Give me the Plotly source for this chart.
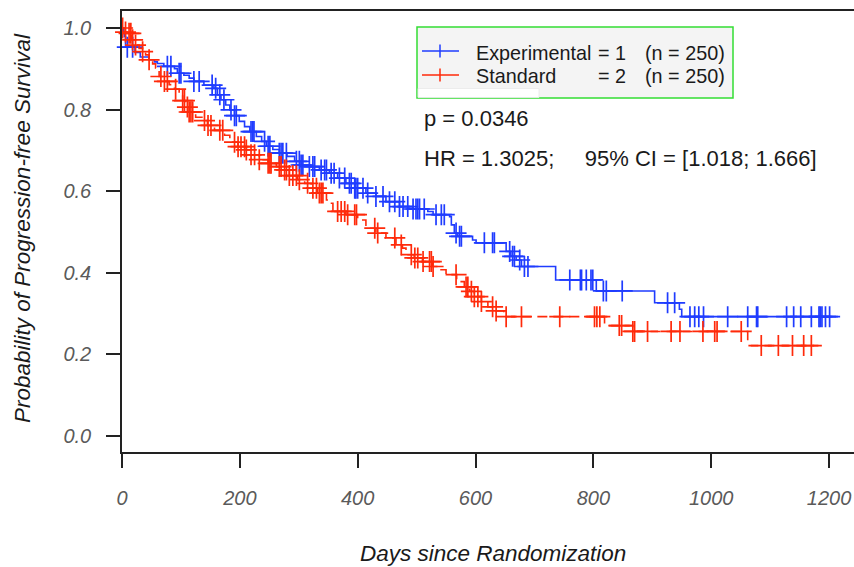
import plotly.graph_objects as go

# ---------------- data ----------------
x_tick_vals = [0, 200, 400, 600, 800, 1000, 1200]
y_tick_vals = [0.0, 0.2, 0.4, 0.6, 0.8, 1.0]
y_tick_text = ["0.0", "0.2", "0.4", "0.6", "0.8", "1.0"]

# Experimental (blue) Kaplan-Meier steps: time of event -> survival after it
blue_time = [0, 2, 4, 6, 22, 31, 46, 55, 60, 71, 89, 94, 105, 114, 122, 139, 156, 162,
             168, 176, 183, 191, 199, 208, 217, 228, 237, 245, 256, 267, 280, 293, 304,
             318, 335, 352, 366, 380, 395, 414, 431, 448, 471, 494, 519, 528, 556, 559,
             564, 570, 595, 601, 652, 660, 669, 678, 736, 805, 904, 946, 950]
blue_surv = [1.0, 0.99, 0.979, 0.953, 0.94, 0.929, 0.922, 0.917, 0.913, 0.906, 0.90,
             0.889, 0.884, 0.877, 0.869, 0.860, 0.852, 0.836, 0.824, 0.811, 0.799, 0.785,
             0.771, 0.758, 0.746, 0.734, 0.722, 0.710, 0.702, 0.693, 0.685, 0.673, 0.664,
             0.660, 0.652, 0.644, 0.632, 0.619, 0.607, 0.595, 0.587, 0.574, 0.562, 0.556,
             0.550, 0.542, 0.537, 0.517, 0.497, 0.489, 0.480, 0.473, 0.452, 0.440, 0.431,
             0.415, 0.382, 0.355, 0.326, 0.310, 0.292]
blue_end = 1215
blue_censor = [9, 18, 77, 83, 97, 100, 122, 131, 153, 159, 166, 173, 185, 191, 194, 219,
               222, 224, 242, 248, 251, 267, 270, 273, 279, 296, 301, 304, 307, 318, 324,
               327, 338, 344, 347, 355, 360, 369, 378, 386, 389, 395, 397, 400, 409, 417,
               431, 443, 454, 463, 471, 477, 485, 494, 499, 502, 505, 513, 533, 542, 547,
               567, 573, 576, 615, 629, 632, 658, 663, 666, 675, 683, 689, 760, 778, 780,
               788, 796, 799, 817, 822, 849, 926, 938, 964, 972, 979, 987, 1028, 1062,
               1077, 1079, 1128, 1140, 1152, 1170, 1183, 1185, 1188, 1194, 1201]

# Standard (red) Kaplan-Meier steps
red_time = [0, 5, 9, 16, 23, 29, 35, 40, 46, 52, 57, 63, 72, 80, 89, 97, 103, 108, 114,
            125, 137, 145, 157, 174, 183, 197, 211, 219, 233, 248, 262, 273, 284, 298,
            310, 321, 332, 347, 352, 358, 380, 400, 414, 431, 448, 465, 476, 482, 496,
            510, 527, 539, 550, 568, 581, 590, 598, 610, 621, 633, 648, 819, 867, 1062]
red_surv = [1.0, 0.99, 0.987, 0.971, 0.958, 0.950, 0.942, 0.934, 0.922, 0.912, 0.902,
            0.881, 0.869, 0.861, 0.850, 0.838, 0.822, 0.806, 0.794, 0.781, 0.773, 0.761,
            0.749, 0.737, 0.720, 0.709, 0.701, 0.689, 0.677, 0.668, 0.660, 0.652, 0.638,
            0.628, 0.619, 0.607, 0.595, 0.578, 0.570, 0.550, 0.542, 0.529, 0.509, 0.497,
            0.485, 0.468, 0.460, 0.444, 0.436, 0.427, 0.415, 0.407, 0.395, 0.378, 0.365,
            0.354, 0.341, 0.329, 0.316, 0.306, 0.292, 0.270, 0.2557, 0.221]
red_end = 1182
red_censor = [1, 6, 12, 15, 18, 23, 35, 46, 66, 72, 77, 91, 103, 106, 111, 114, 117, 120,
              140, 146, 151, 166, 171, 191, 197, 202, 208, 211, 219, 225, 233, 248, 251,
              253, 267, 270, 276, 279, 284, 290, 296, 301, 315, 324, 330, 335, 338, 341,
              366, 372, 378, 383, 395, 398, 429, 434, 463, 474, 491, 497, 502, 511, 522,
              525, 528, 567, 584, 587, 593, 598, 604, 610, 629, 635, 652, 678, 743, 802,
              806, 811, 844, 848, 867, 870, 892, 932, 947, 986, 1006, 1010, 1051, 1085,
              1114, 1138, 1157, 1170]

legend_names = ["Experimental", "Standard"]
legend_codes = ["= 1", "= 2"]
legend_n = ["(n = 250)", "(n = 250)"]
p_text = "p = 0.0346"
hr_text = "HR = 1.3025;     95% CI = [1.018; 1.666]"
x_title = "Days since Randomization"
y_title = "Probability of Progression-free Survival"

BLUE = "#1f3cff"
RED = "#ff2a0a"
FONT = "Liberation Sans, Arial, sans-serif"

W, H = 854, 567
ML, MR, MT, MB = 122, 0, 11, 115


def px_x(px):
    return (px - ML) / (W - ML - MR)


def px_y(py):
    return (H - MB - py) / (H - MT - MB)


def surv_at(times, survs, t):
    s = survs[0]
    for ti, si in zip(times, survs):
        if ti <= t:
            s = si
        else:
            break
    return s


fig = go.Figure()

for times, survs, end, cens, col, dash in [
    (blue_time, blue_surv, blue_end, blue_censor, BLUE, "solid"),
    (red_time, red_surv, red_end, red_censor, RED, "10px,6px"),
]:
    fig.add_trace(go.Scatter(
        x=times + [end], y=survs + [survs[-1]], mode="lines",
        line=dict(color=col, width=1.6, shape="hv", dash=dash),
        showlegend=False, hoverinfo="skip"))
    fig.add_trace(go.Scatter(
        x=cens, y=[surv_at(times, survs, t) for t in cens], mode="markers",
        marker=dict(symbol="cross-thin", size=15, color=col,
                    line=dict(color=col, width=1.7)),
        cliponaxis=False, showlegend=False, hoverinfo="skip"))

tick_font = dict(family=FONT, size=20, color="#5a5a5a", style="italic")

fig.update_layout(
    width=W, height=H,
    margin=dict(l=ML, r=MR, t=MT, b=MB, autoexpand=False),
    paper_bgcolor="white", plot_bgcolor="white",
    xaxis=dict(range=[0, 1242.4], tickvals=x_tick_vals, showgrid=False,
               zeroline=False, showline=True, linecolor="#222", linewidth=1.5,
               mirror=True, ticks="outside", ticklen=14, tickwidth=1.5,
               tickcolor="#222", tickfont=tick_font, ticklabelstandoff=13,
               automargin=False),
    yaxis=dict(range=[-0.04, 1.0417], tickvals=y_tick_vals, ticktext=y_tick_text,
               showgrid=False, zeroline=False, showline=True, linecolor="#222",
               linewidth=1.5, mirror=False, ticks="outside", ticklen=14,
               tickwidth=1.5, tickcolor="#222", tickfont=tick_font,
               ticklabelstandoff=11, automargin=False),
)

shapes = []
# legend box
shapes.append(dict(type="rect", xref="paper", yref="paper",
                   x0=px_x(417), x1=px_x(733), y0=px_y(98), y1=px_y(27),
                   fillcolor="#f4f4f4", line=dict(color="#33dd33", width=1.5),
                   layer="above"))
# small white patch in the legend's lower-left corner
shapes.append(dict(type="rect", xref="paper", yref="paper",
                   x0=px_x(418), x1=px_x(539), y0=px_y(97.5), y1=px_y(88.5),
                   fillcolor="white", line=dict(color="#e8e8e8", width=0.8),
                   layer="above"))
for i, col in enumerate([BLUE, RED]):
    yc = 51 + i * 24
    shapes.append(dict(type="line", xref="paper", yref="paper",
                       x0=px_x(422), x1=px_x(459), y0=px_y(yc), y1=px_y(yc),
                       line=dict(color=col, width=1.5), layer="above"))
    shapes.append(dict(type="line", xref="paper", yref="paper",
                       x0=px_x(440), x1=px_x(440), y0=px_y(yc - 6.5), y1=px_y(yc + 6.5),
                       line=dict(color=col, width=1.5), layer="above"))
fig.update_layout(shapes=shapes)

ann = []
leg_font = dict(family=FONT, size=19.8, color="#1a1a1a")
for i in range(2):
    yc = 53 + i * 23
    for txt, xl in [(legend_names[i], 474), (legend_codes[i], 596), (legend_n[i], 643)]:
        ann.append(dict(text=txt, xref="paper", yref="paper", x=px_x(xl), y=px_y(yc),
                        xanchor="left", yanchor="middle", showarrow=False, font=leg_font))
big_font = dict(family=FONT, size=22, color="#1a1a1a")
ann.append(dict(text=p_text, xref="paper", yref="paper", x=px_x(422), y=px_y(118),
                xanchor="left", yanchor="middle", showarrow=False, font=big_font))
ann.append(dict(text=hr_text.replace(" ", "&nbsp;"), xref="paper", yref="paper",
                x=px_x(422), y=px_y(158), xanchor="left", yanchor="middle",
                showarrow=False, font=big_font))
title_font = dict(family=FONT, size=22.5, color="#1a1a1a", style="italic")
ann.append(dict(text=x_title, xref="paper", yref="paper", x=px_x(493), y=px_y(553),
                xanchor="center", yanchor="middle", showarrow=False, font=title_font))
ann.append(dict(text=y_title, xref="paper", yref="paper", x=px_x(22), y=px_y(228),
                xanchor="center", yanchor="middle", textangle=-90, showarrow=False,
                font=title_font))
fig.update_layout(annotations=ann)

fig.write_html(
    "out.html",
    config={"displayModeBar": False},
    post_script="document.body.style.margin='0px';document.body.style.overflow='hidden';",
)
